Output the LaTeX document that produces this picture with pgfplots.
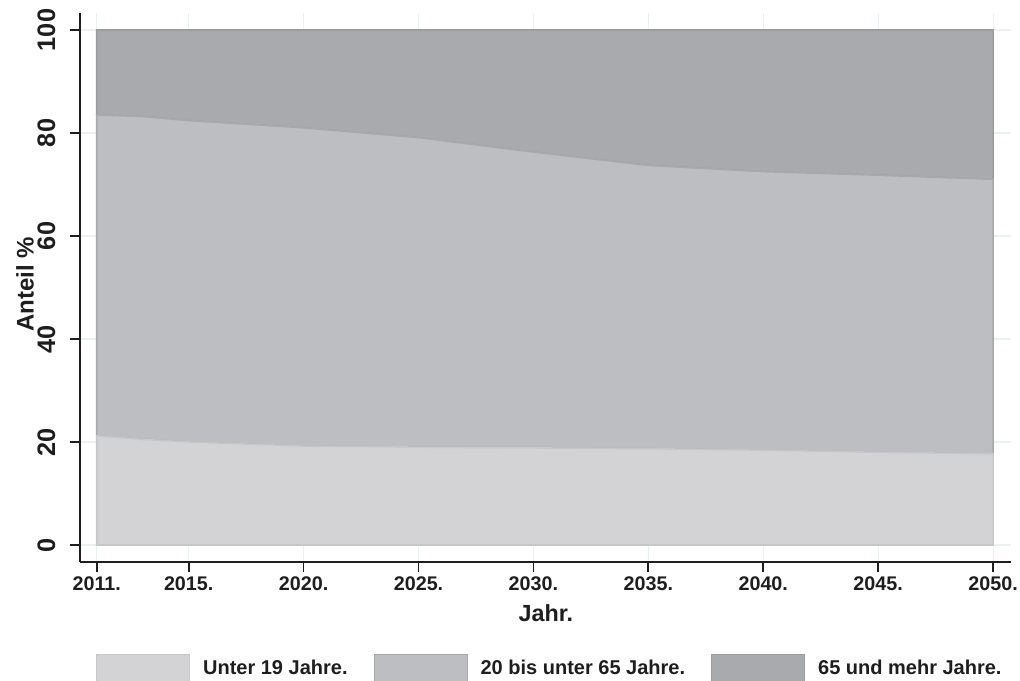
\documentclass[border=0pt]{standalone}
\usepackage{fontspec}
\setmainfont{Liberation Sans}
\usepackage{pgfplots}
\pgfplotsset{compat=1.18}
\definecolor{cA}{HTML}{D3D3D5}
\definecolor{cAd}{HTML}{C6C7CA}
\definecolor{cB}{HTML}{BDBEC2}
\definecolor{cBd}{HTML}{A8A9AD}
\definecolor{cC}{HTML}{A9AAAD}
\definecolor{cCd}{HTML}{9C9DA1}
\definecolor{gridc}{HTML}{E9F1F2}
\definecolor{axc}{HTML}{1E1E1E}
\begin{document}
\begin{tikzpicture}
\path[use as bounding box] (-60pt,-89.25pt) rectangle (705pt,421.5pt);
\begin{axis}[
  at={(0,0)}, anchor=south west,
  scale only axis, width=698.25pt, height=411.75pt,
  xmin=2010.27, xmax=2050.78, ymin=-3.3, ymax=103.3,
  axis lines*=left,
  axis line style={line width=1.3pt, color=axc, -},
  tick style={line width=1.3pt, color=axc},
  tick align=outside, major tick length=7.5pt,
  xtick={2011,2015,2020,2025,2030,2035,2040,2045,2050},
  xticklabels={2011.,2015.,2020.,2025.,2030.,2035.,2040.,2045.,2050.},
  ytick={0,20,40,60,80,100},
  /pgf/number format/assume math mode=true,
  xticklabel style={font=\fontsize{14.8}{14.8}\selectfont\bfseries, text=axc},
  yticklabel style={font=\fontsize{19}{19}\selectfont\bfseries, rotate=90, anchor=south, text=axc},
  yticklabel shift=7.5pt,
  xlabel={Jahr.},
  ylabel={Anteil \%},
  xlabel style={font=\fontsize{17.5}{17.5}\selectfont\bfseries, at={(axis description cs:0.5005,-0.093)}, anchor=center, text=axc},
  ylabel style={font=\fontsize{18}{18}\selectfont\bfseries, at={(axis description cs:-0.059,0.506)}, anchor=center, rotate=0, text=axc},
  grid=major, grid style={color=gridc, line width=0.8pt},
  stack plots=y,
  legend columns=3,
  legend style={at={(axis description cs:0.505,-0.193)}, anchor=center, draw=none, fill=none,
    font=\fontsize{15}{15}\selectfont\bfseries, text=axc,
    /tikz/every odd column/.append style={column sep=7.5pt},
    /tikz/every even column/.append style={column sep=17.5pt}},
  legend image code/.code={\draw[#1, line width=1pt] (0pt,-10pt) rectangle (69.75pt,10pt);},
]
\addplot[fill=cA, draw=cAd, line width=1.2pt] coordinates {
(2011,21.2) (2013,20.5) (2015,20.0) (2020,19.2) (2025,19.0) (2030,18.85) (2035,18.7) (2040,18.4) (2045,18.0) (2050,17.7)
} \closedcycle;
\addlegendentry{Unter 19 Jahre.}
\addplot[fill=cB, draw=cBd, line width=1.2pt] coordinates {
(2011,62.3) (2013,62.7) (2015,62.4) (2020,61.8) (2025,60.1) (2030,57.45) (2035,55.0) (2040,54.1) (2045,53.8) (2050,53.3)
} \closedcycle;
\addlegendentry{20 bis unter 65 Jahre.}
\addplot[fill=cC, draw=cCd, line width=1.2pt] coordinates {
(2011,16.5) (2013,16.8) (2015,17.6) (2020,19.0) (2025,20.9) (2030,23.7) (2035,26.3) (2040,27.5) (2045,28.2) (2050,29.0)
} \closedcycle;
\addlegendentry{65 und mehr Jahre.}
\end{axis}
\end{tikzpicture}
\end{document}
